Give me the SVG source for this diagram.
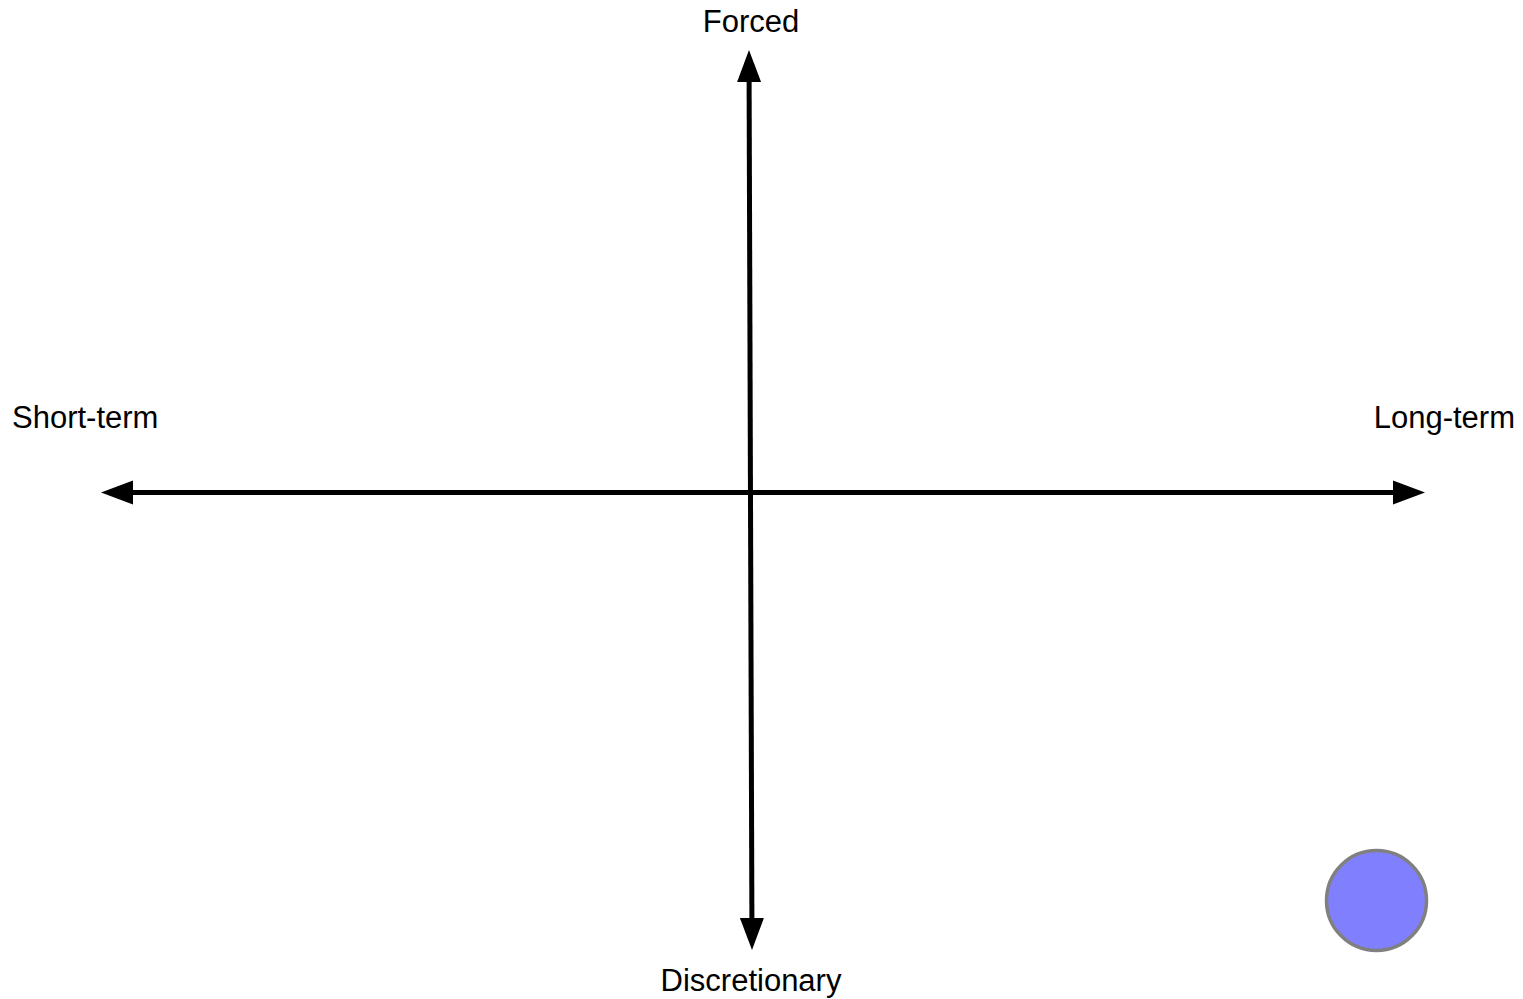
<svg xmlns="http://www.w3.org/2000/svg" width="1523" height="999" viewBox="0 0 1523 999">
  <style>
    .axis { stroke: #000; stroke-width: 5; fill: none; }
    .lbl { font-family: "Liberation Sans", Arial, sans-serif; font-size: 31px; fill: #000; }
  </style>
  <defs>
    <marker id="ah" markerUnits="userSpaceOnUse" markerWidth="32" markerHeight="24" refX="0" refY="12" orient="auto-start-reverse" overflow="visible">
      <path d="M0,0 L32,12 L0,24 Z" fill="#000"/>
    </marker>
  </defs>
  <rect width="1523" height="999" fill="#fff"/>
  <g id="connectors">
    <line class="axis" x1="133" y1="492.5" x2="1393" y2="492.5" marker-start="url(#ah)" marker-end="url(#ah)"/>
    <line class="axis" x1="749.1" y1="82" x2="751.9" y2="918" marker-start="url(#ah)" marker-end="url(#ah)"/>
  </g>
  <g id="label-forced"><text class="lbl" x="751" y="32" text-anchor="middle">Forced</text></g>
  <g id="label-discretionary"><text class="lbl" x="751" y="991" text-anchor="middle">Discretionary</text></g>
  <g id="label-short"><text class="lbl" x="12" y="428">Short-term</text></g>
  <g id="label-long"><text class="lbl" x="1515" y="428" text-anchor="end">Long-term</text></g>
  <g id="dot"><circle cx="1376.5" cy="900.5" r="50" fill="#8080ff" stroke="#808080" stroke-width="3.5"/></g>
</svg>
